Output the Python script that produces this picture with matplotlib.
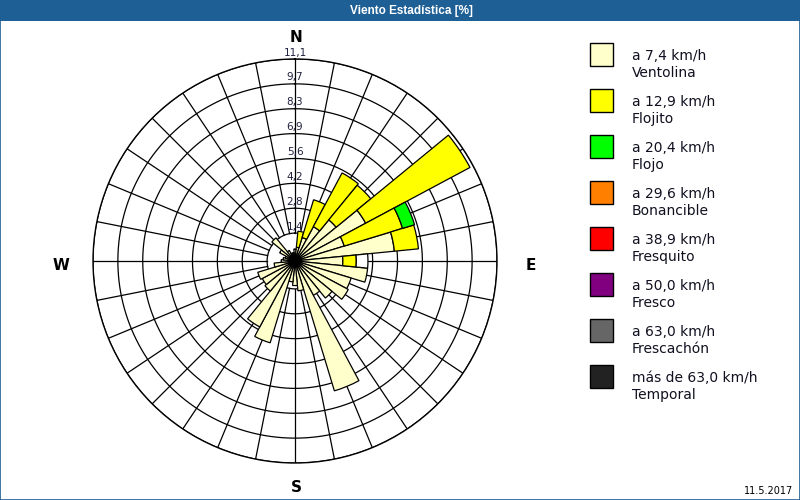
import numpy as np
import matplotlib
matplotlib.use('Agg')
import matplotlib.pyplot as plt
from matplotlib.patches import Rectangle

plt.rcParams['font.family'] = ['DejaVu Sans']

# 32 directions, 11.25 deg each, starting at N going clockwise
directions = np.arange(32) * 11.25

# frequency (%) by speed class, stacked from the centre outwards
ventolina = [0.5, 0.6, 1.2, 2.0, 2.8, 4.3, 2.7, 5.4,
             2.5, 3.9, 3.1, 3.2, 2.5, 2.0, 7.4, 1.5,
             1.2, 1.0, 4.6, 4.0, 2.0, 1.9, 2.0, 1.0,
             0.6, 0.5, 0.4, 0.8, 1.5, 0.5, 0.3, 0.3]
flojito = [0, 0.9, 2.2, 3.4, 2.5, 6.6, 3.4, 1.35,
           0.75, 0, 0, 0, 0, 0, 0, 0,
           0, 0, 0, 0, 0, 0, 0, 0,
           0, 0, 0, 0, 0, 0, 0, 0]
flojo = [0, 0, 0, 0, 0, 0, 0.7, 0,
         0, 0, 0, 0, 0, 0, 0, 0,
         0, 0, 0, 0, 0, 0, 0, 0,
         0, 0, 0, 0, 0, 0, 0, 0]
# white box drawn on the east bar
other = [0] * 32
other[8] = 0.65

ring_labels = ['1,4', '2,8', '4,2', '5,6', '6,9', '8,3', '9,7', '11,1']

legend_speeds = ['a 7,4 km/h', 'a 12,9 km/h', 'a 20,4 km/h', 'a 29,6 km/h',
                 'a 38,9 km/h', 'a 50,0 km/h', 'a 63,0 km/h', 'más de 63,0 km/h']
legend_names = ['Ventolina', 'Flojito', 'Flojo', 'Bonancible',
                'Fresquito', 'Fresco', 'Frescachón', 'Temporal']
legend_colors = ['#ffffcc', '#ffff00', '#00ff00', '#ff8000',
                 '#ff0000', '#800080', '#666666', '#222222']

rmax = 11.1
r0 = -0.17  # small hole at the centre

fig = plt.figure(figsize=(8, 5), dpi=100)
fig.patch.set_facecolor('white')

# title bar
fig.patches.append(Rectangle((0, 0.958), 1, 0.042, transform=fig.transFigure,
                             facecolor='#1e5f96', edgecolor='none', zorder=0))
fig.patches.append(Rectangle((0.0006, 0.001), 0.9988, 0.998, transform=fig.transFigure,
                             facecolor='none', edgecolor='#1e5f96', lw=1.2, zorder=0))
fig.text(0.514, 0.978, 'Viento Estadística [%]', color='white', ha='center', va='center',
         fontsize=8.5, fontweight='bold', family='Liberation Sans')

ax = fig.add_axes([0.11625, 0.074, 0.505, 0.808], projection='polar')
ax.set_theta_zero_location('N')
ax.set_theta_direction(-1)
ax.set_ylim(r0, rmax)
ax.set_xticks([])
ax.set_yticks([])
ax.grid(False)
ax.set_facecolor('white')
ax.spines['polar'].set_linewidth(1.0)

# grid: rings and spokes (spokes start at the first ring)
th = np.linspace(0, 2 * np.pi, 400)
for i in range(8):
    r = rmax * (i + 1) / 8
    ax.plot(th, np.full_like(th, r), color='black', lw=0.9, zorder=1)
for d in directions:
    t = np.deg2rad(d)
    ax.plot([t, t], [rmax / 8, rmax], color='black', lw=0.9, zorder=1)

theta = np.deg2rad(directions)
width = np.deg2rad(11.25)
bottom = np.zeros(32)
for vals, col in [(ventolina, legend_colors[0]), (flojito, legend_colors[1]),
                  (flojo, legend_colors[2]), (other, 'white')]:
    vals = np.array(vals, dtype=float)
    m = vals > 0
    ax.bar(theta[m], vals[m], width=width, bottom=bottom[m], color=col,
           edgecolor='black', linewidth=0.9, zorder=3)
    bottom = bottom + vals

# dark knot where all bar edges meet
ax.plot(0, r0, 'o', color='black', ms=6, zorder=4)

# ring labels on the north axis
for i, lab in enumerate(ring_labels):
    r = rmax * (i + 1) / 8
    ax.text(0, r + 0.08, lab, ha='center', va='bottom', fontsize=7.5,
            color='#202040', zorder=5)

# cardinal letters
fig.text(296 / 800, 1 - 37 / 500, 'N', ha='center', va='center', fontsize=11, fontweight='bold')
fig.text(531 / 800, 1 - 265 / 500, 'E', ha='center', va='center', fontsize=11, fontweight='bold')
fig.text(296 / 800, 1 - 488 / 500, 'S', ha='center', va='center', fontsize=11, fontweight='bold')
fig.text(61 / 800, 1 - 265 / 500, 'W', ha='center', va='center', fontsize=11, fontweight='bold')

# legend
for i in range(8):
    y0 = 43 + i * 46
    fig.patches.append(Rectangle((590 / 800, 1 - (y0 + 23) / 500), 23 / 800, 23 / 500,
                                 transform=fig.transFigure, facecolor=legend_colors[i],
                                 edgecolor='black', lw=1))
    fig.text(632 / 800, 1 - (y0 + 13) / 500, legend_speeds[i], ha='left', va='center',
             fontsize=10, color='#101020')
    fig.text(632 / 800, 1 - (y0 + 30) / 500, legend_names[i], ha='left', va='center',
             fontsize=10, color='#101020')

fig.text(793 / 800, 1 - 491 / 500, '11.5.2017', ha='right', va='center', fontsize=7)

fig.savefig('out.png', dpi=100)
